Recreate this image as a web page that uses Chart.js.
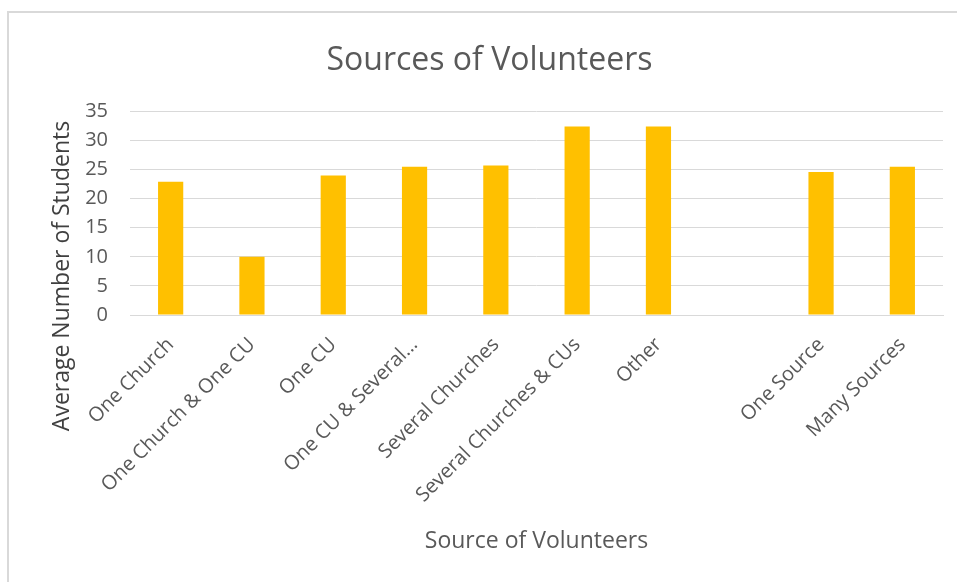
<!DOCTYPE html>
<html>
<head>
<meta charset="utf-8">
<title>Sources of Volunteers</title>
<script src="https://cdn.jsdelivr.net/npm/chart.js@4"></script>
<style>
    html, body { margin: 0; padding: 0; background: #fff; overflow: hidden; }
    .frame {
        position: absolute; left: 7px; top: 11px;
        width: 1000px; height: 640px;
        border: 2px solid #d9d9d9;
    }
    .wrap { position: absolute; left: 0; top: 0; width: 957px; height: 582px; }
</style>
</head>
<body>
<div class="frame"></div>
<div class="wrap"><canvas id="chart"></canvas></div>
<script>
// Average number of students by where the volunteers come from
const categories = [
    'One Church',
    'One Church & One CU',
    'One CU',
    'One CU & Several\u2026',
    'Several Churches',
    'Several Churches & CUs',
    'Other',
    '',
    'One Source',
    'Many Sources'
];
const avgStudents = [22.9, 10.0, 24.0, 25.5, 25.7, 32.4, 32.4, null, 24.6, 25.5];
const yTicks = [0, 5, 10, 15, 20, 25, 30, 35];

const FONT = '"Open Sans", "Noto Sans", sans-serif';
const GREY = '#595959';

// y axis title sits lower than chart.js would centre it, so it is drawn by hand
const yTitlePlugin = {
    id: 'yTitle',
    afterDraw(chart) {
        const ctx = chart.ctx;
        ctx.save();
        ctx.translate(62, 276);
        ctx.rotate(-Math.PI / 2);
        ctx.font = '23px ' + FONT;
        ctx.fillStyle = '#404040';
        ctx.textAlign = 'center';
        ctx.textBaseline = 'middle';
        ctx.fillText('Average Number of Students', 0, 0);
        ctx.restore();
    }
};

new Chart(document.getElementById('chart'), {
    type: 'bar',
    data: {
        labels: categories,
        datasets: [{
            label: 'Average Number of Students',
            data: avgStudents,
            backgroundColor: '#ffc000',
            borderWidth: 0,
            categoryPercentage: 1,
            barPercentage: 0.31
        }]
    },
    options: {
        responsive: true,
        maintainAspectRatio: false,
        animation: false,
        // left padding pushes the title centre right; y axis width makes up for it
        layout: { padding: { left: 36, right: 14, top: 0, bottom: 0 } },
        plugins: {
            legend: { display: false },
            tooltip: { enabled: false },
            title: {
                display: true,
                text: 'Sources of Volunteers',
                color: GREY,
                font: { family: FONT, size: 32, weight: 'normal' },
                padding: { top: 42, bottom: 31 }
            }
        },
        scales: {
            x: {
                grid: { display: false, drawTicks: false },
                border: { display: true, color: '#d9d9d9', width: 1 },
                ticks: {
                    color: GREY,
                    font: { family: FONT, size: 20 },
                    minRotation: 45,
                    maxRotation: 45,
                    autoSkip: false,
                    padding: 18
                },
                title: {
                    display: true,
                    text: 'Source of Volunteers',
                    color: GREY,
                    font: { family: FONT, size: 23 },
                    padding: { top: 4, bottom: 27 }
                },
                afterFit(scale) { scale.height = 267; }
            },
            y: {
                min: 0,
                max: 35,
                afterBuildTicks(scale) { scale.ticks = yTicks.map(v => ({ value: v })); },
                grid: { color: '#d9d9d9', lineWidth: 1, drawTicks: false },
                border: { display: false },
                ticks: {
                    color: GREY,
                    font: { family: FONT, size: 20 },
                    padding: 22
                },
                afterFit(scale) { scale.width = 94; }
            }
        }
    },
    plugins: [yTitlePlugin]
});
</script>
</body>
</html>
